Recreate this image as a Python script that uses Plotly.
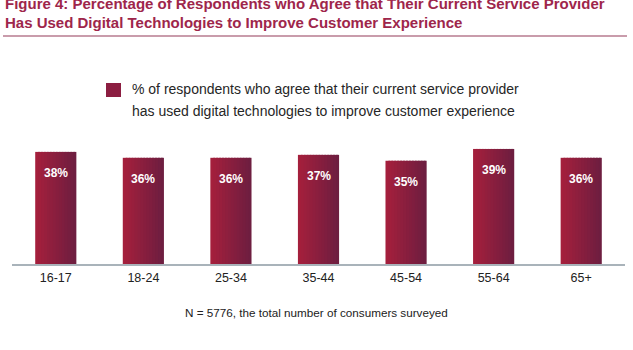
import plotly.graph_objects as go

# ---- data ----
categories = ["16-17", "18-24", "25-34", "35-44", "45-54", "55-64", "65+"]
values = [38, 36, 36, 37, 35, 39, 36]
value_labels = ["38%", "36%", "36%", "37%", "35%", "39%", "36%"]
title_lines = [
    "Figure 4: Percentage of Respondents who Agree that Their Current Service Provider",
    "Has Used Digital Technologies to Improve Customer Experience",
]
legend_lines = [
    "% of respondents who agree that their current service provider",
    "has used digital technologies to improve customer experience",
]
footnote = "N = 5776, the total number of consumers surveyed"

# ---- layout geometry ----
W, H = 633, 350
ML, MR, MT, MB = 12, 8, 146, 86
PW, PH = W - ML - MR, H - MT - MB

def px(x):
    return (x - ML) / PW

def py(y):
    return (H - MB - y) / PH

FONT = "Liberation Sans, Arial, sans-serif"

def lerp(c1, c2, t):
    return "rgb(%d,%d,%d)" % tuple(round(a + (b - a) * t) for a, b in zip(c1, c2))

left_c = (166, 31, 60)
right_c = (108, 30, 64)

fig = go.Figure()
bw = 0.47
N = 14
step = bw / N
for i in range(N):
    off = -bw / 2 + i * step
    wid = min(step * 1.6, bw / 2 - off)
    fig.add_trace(go.Bar(
        x=categories, y=values, width=wid, offset=off,
        marker=dict(color=lerp(left_c, right_c, (i + 0.5) / N), line=dict(width=0)),
        showlegend=False, hoverinfo="skip",
    ))

annotations = []
for c, v, lab in zip(categories, values, value_labels):
    annotations.append(dict(x=c, y=v, xref="x", yref="y", text=lab, showarrow=False,
                            yshift=-21, font=dict(family=FONT, size=12, color="white", weight="bold")))

title_color = "#9e264b"
for t, yc in zip(title_lines, [3, 22]):
    annotations.append(dict(x=px(3), y=py(yc), xref="paper", yref="paper", text="<b>%s</b>" % t,
                            showarrow=False, xanchor="left", yanchor="middle",
                            font=dict(family=FONT, size=15, color=title_color)))

for t, yc in zip(legend_lines, [89, 111]):
    annotations.append(dict(x=px(130), y=py(yc), xref="paper", yref="paper", text=t,
                            showarrow=False, xanchor="left", yanchor="middle",
                            font=dict(family=FONT, size=14, color="#262626")))

annotations.append(dict(x=px(316), y=py(312), xref="paper", yref="paper", text=footnote,
                        showarrow=False, xanchor="center", yanchor="middle",
                        font=dict(family=FONT, size=11.7, color="#222222")))

shapes = [
    dict(type="line", xref="paper", yref="paper", x0=px(3), x1=px(627), y0=py(36), y1=py(36),
         line=dict(color="#c99cab", width=2)),
    dict(type="rect", xref="paper", yref="paper", x0=px(106), x1=px(121), y0=py(83), y1=py(97),
         fillcolor="#8c1e41", line=dict(width=0)),
]

fig.update_layout(
    width=W, height=H,
    margin=dict(l=ML, r=MR, t=MT, b=MB),
    paper_bgcolor="white", plot_bgcolor="white",
    barmode="overlay",
    showlegend=False,
    annotations=annotations,
    shapes=shapes,
    xaxis=dict(type="category", range=[-0.5, 6.5], showgrid=False, zeroline=False,
               showline=True, linecolor="#a9b3ba", linewidth=1.5, ticks="",
               tickfont=dict(family=FONT, size=12.5, color="#222222"), ticklabelstandoff=1,
               fixedrange=True),
    yaxis=dict(range=[0, 40], visible=False, fixedrange=True),
)

fig.write_html("out.html")
